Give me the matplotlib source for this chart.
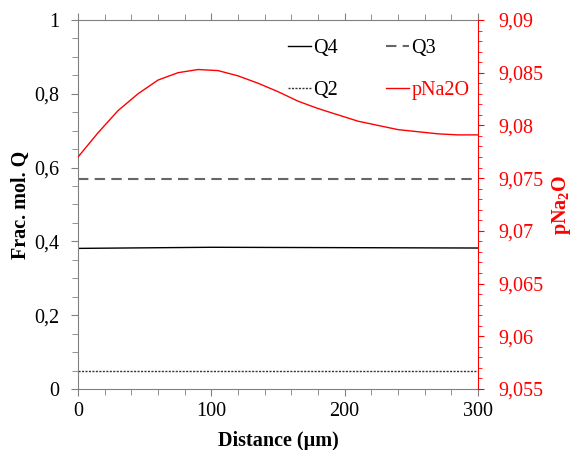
import matplotlib.pyplot as plt
from matplotlib.ticker import MultipleLocator, FuncFormatter

plt.rcParams['font.family'] = ['Liberation Serif', 'DejaVu Serif']
plt.rcParams['mathtext.fontset'] = 'custom'
plt.rcParams['mathtext.rm'] = 'Liberation Serif'
plt.rcParams['mathtext.bf'] = 'Liberation Serif:bold'

# data
distance = [0, 15, 30, 45, 60, 75, 90, 105, 120, 135, 150, 165, 180, 195, 210, 225, 240, 255, 270, 285, 300]
pna2o = [9.0770, 9.0793, 9.0814, 9.0830, 9.0843, 9.0850, 9.0853, 9.0852, 9.0847, 9.0840, 9.0832,
         9.0823, 9.0816, 9.0810, 9.0804, 9.0800, 9.0796, 9.0794, 9.0792, 9.0791, 9.0791]
q_dist = [0, 100, 200, 300]
q4 = [0.381, 0.384, 0.383, 0.382]
q3 = [0.569, 0.569, 0.569, 0.569]
q2 = [0.049, 0.049, 0.049, 0.049]

gray = '#808080'
red = '#ff0000'
fs = 14.5


def comma(v, pos):
    return ('%g' % round(v, 4)).replace('.', ',')


fig = plt.figure(figsize=(5.74, 4.5), dpi=100)
ax = fig.add_axes([0.1359, 0.1356, 0.6969, 0.8200])
ax2 = ax.twinx()

l4, = ax.plot(q_dist, q4, color='black', lw=1.0, label='Q4')
l3, = ax.plot(q_dist, q3, color='#666666', lw=1.5, linestyle=(0, (5, 3)), label='Q3')
l2, = ax.plot(q_dist, q2, color='#333333', lw=1.0, linestyle=(0, (1.5, 1)), label='Q2')
lp, = ax2.plot(distance, pna2o, color=red, lw=1.0, label='pNa2O')

ax.set_xlim(0, 300)
ax.set_ylim(0, 1)
ax2.set_ylim(9.055, 9.09)

ax.xaxis.set_major_locator(MultipleLocator(100))
ax.xaxis.set_minor_locator(MultipleLocator(20))
ax.yaxis.set_major_locator(MultipleLocator(0.2))
ax.yaxis.set_minor_locator(MultipleLocator(0.05))
ax2.yaxis.set_major_locator(MultipleLocator(0.005))
ax2.yaxis.set_minor_locator(MultipleLocator(0.001))
ax.yaxis.set_major_formatter(FuncFormatter(comma))
ax2.yaxis.set_major_formatter(FuncFormatter(comma))

for s in ['left', 'bottom', 'top']:
    ax.spines[s].set_color(gray)
ax.spines['right'].set_visible(False)
for s in ['left', 'bottom', 'top']:
    ax2.spines[s].set_visible(False)
ax2.spines['right'].set_color(red)

ax.tick_params(which='both', direction='out', color=gray, labelsize=fs, top=True, labeltop=False)
ax.tick_params(axis='x', which='major', length=5, pad=4.3)
ax.tick_params(axis='y', which='major', length=5, pad=8.6)
ax.tick_params(which='minor', length=4)
ax2.tick_params(which='both', direction='out', color=red, labelcolor=red, labelsize=fs)
ax2.tick_params(which='major', length=4, pad=11)
ax2.tick_params(which='minor', length=3)

ax.set_xlabel('Distance (µm)', fontsize=fs, fontweight='bold', labelpad=7)
ax.set_ylabel('Frac. mol. Q', fontsize=fs, fontweight='bold', labelpad=2)
ax2.set_ylabel(r'$\mathbf{pNa_2O}$', fontsize=fs, color=red, labelpad=4)

# columns fill first, so order is Q4, Q2 | Q3, pNa2O
fig.legend([l4, l2, l3, lp], ['Q4', 'Q2', 'Q3', 'pNa2O'], ncol=2, frameon=False,
           loc='upper left', bbox_to_anchor=(0.484, 0.935), fontsize=fs,
           handlelength=1.15, handletextpad=0.1, columnspacing=2.4, labelspacing=1.1,
           borderpad=0, labelcolor=['black', 'black', 'black', red])

fig.savefig('out.png', dpi=100)
